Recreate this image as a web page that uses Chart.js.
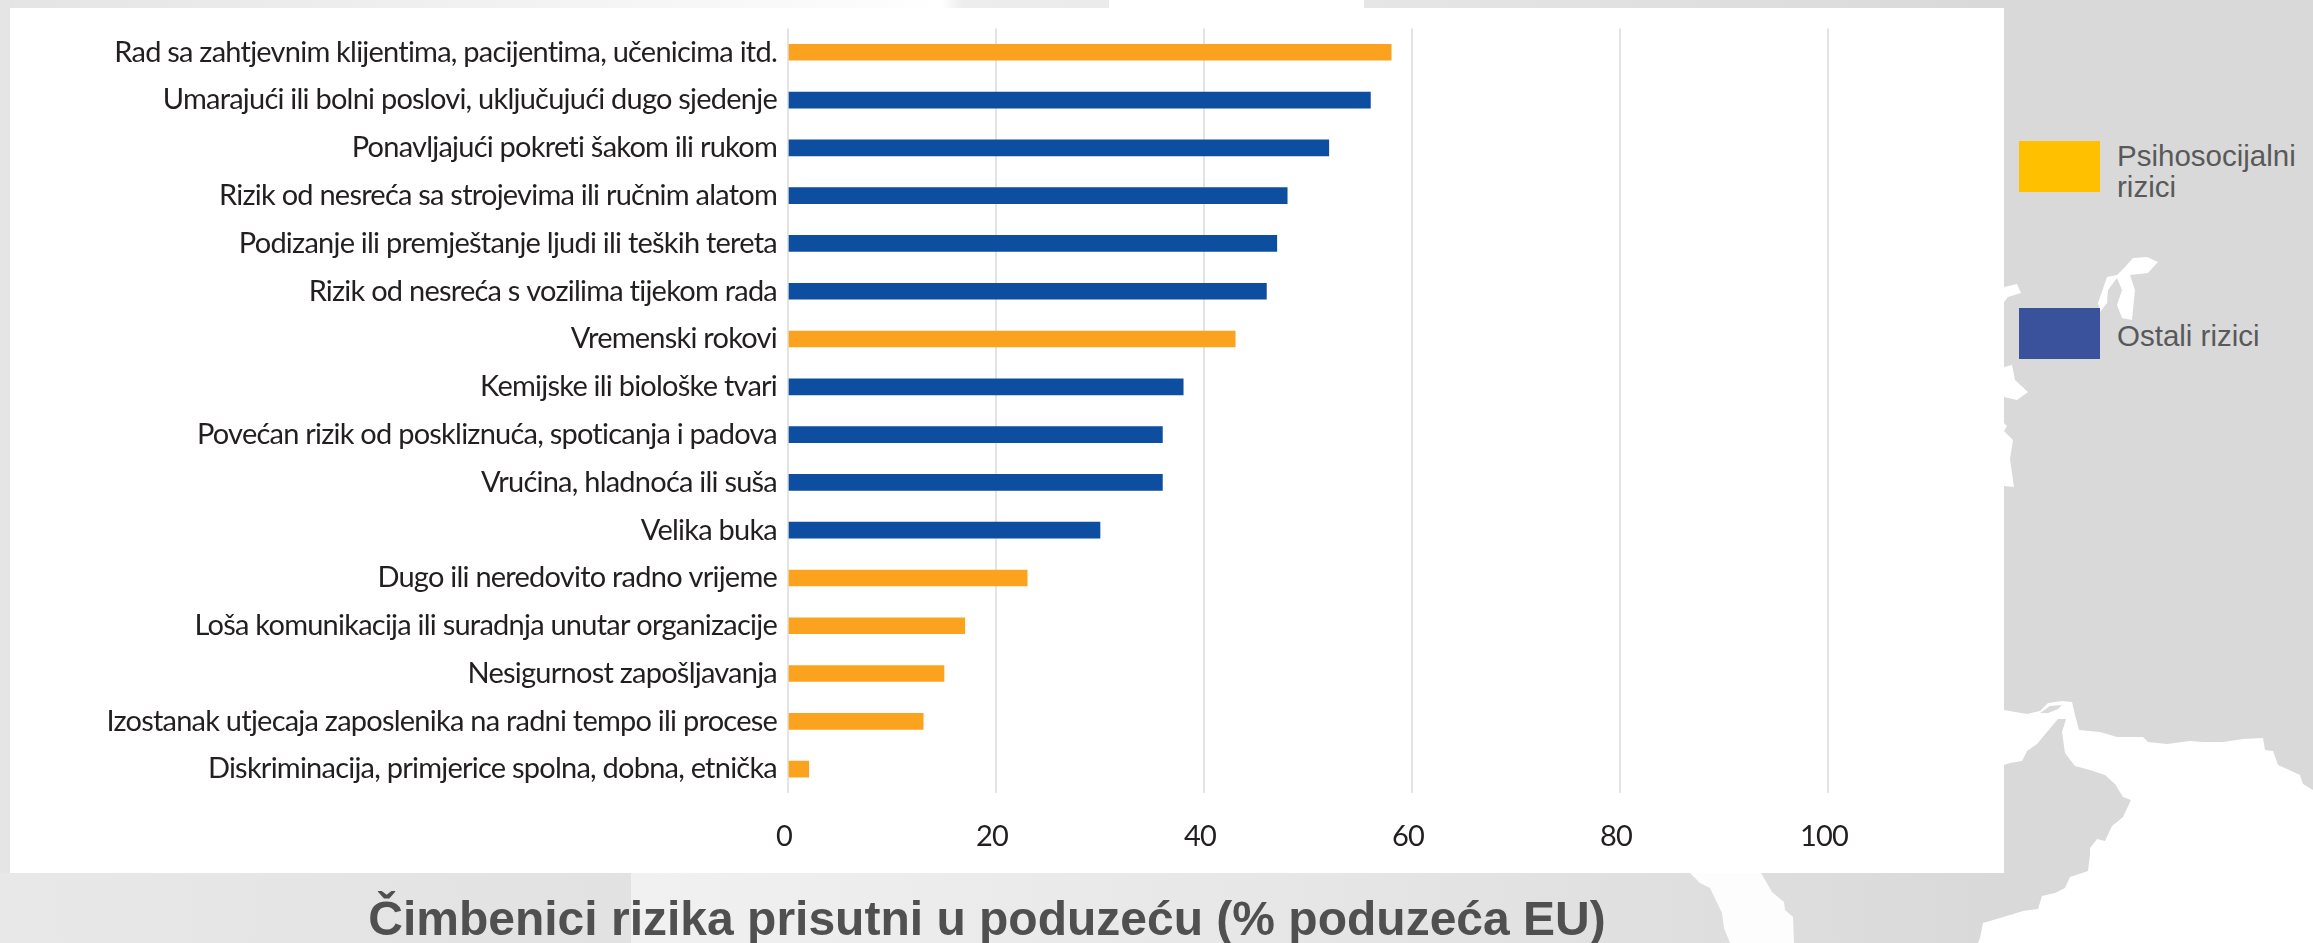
<!DOCTYPE html>
<html><head><meta charset="utf-8">
<script src="https://cdn.jsdelivr.net/npm/chart.js@4"></script>
<style>
html,body{margin:0;padding:0;width:2313px;height:943px;overflow:hidden;background:#d9d9d9}
svg.bg{position:absolute;left:0;top:0}
#panel{position:absolute;left:10px;top:8px;width:1994px;height:865px;background:#fff}
#c{position:absolute;left:0;top:0}
.sw{position:absolute;left:2019px;width:81px;height:51px}
.lt{position:absolute;left:2117px;font:29.5px/31px "Liberation Sans",Arial,sans-serif;color:#595959;white-space:pre}
</style></head><body>
<svg class="bg" width="2313" height="943" xmlns="http://www.w3.org/2000/svg">
<defs>
<linearGradient id="g1" x1="0" x2="1" y1="0" y2="0">
<stop offset="0" stop-color="#f1f1f1"/><stop offset="0.5" stop-color="#e6e6e6"/><stop offset="1" stop-color="#d9d9d9"/></linearGradient>
<linearGradient id="g2" x1="0" x2="1" y1="0" y2="0">
<stop offset="0" stop-color="#e8e8e8"/><stop offset="1" stop-color="#e2e2e2"/></linearGradient>
<linearGradient id="g3" x1="0" x2="1" y1="0" y2="0">
<stop offset="0" stop-color="#e4e4e4"/><stop offset="0.42" stop-color="#fbfbfb"/><stop offset="0.47" stop-color="#ffffff"/><stop offset="0.48" stop-color="#ededed"/><stop offset="0.68" stop-color="#e6e6e6"/><stop offset="1" stop-color="#d9d9d9"/></linearGradient>
</defs>
<rect x="0" y="0" width="2313" height="943" fill="#d9d9d9"/>
<rect x="0" y="0" width="2004" height="10" fill="url(#g3)"/>
<rect x="0" y="0" width="10" height="873" fill="#e5e5e5"/>
<rect x="631" y="873" width="1373" height="70" fill="url(#g1)"/>
<rect x="0" y="873" width="631" height="70" fill="url(#g2)"/>
<polygon fill="#fff" points="1109,0 1364,0 1364,8 1109,8"/>
<polygon fill="#fdfdfd" points="1690,873 1700,883 1710,888 1722,913 1724,928 1730,943 1794,943 1793,917 1785,910 1784,902 1772,892 1761,873"/>
<polygon fill="#fff" points="1990,705 2004,710 2027,714 2040,711 2048,703 2062,701 2072,702 2075,715 2079,730 2100,732 2117,737 2143,737 2148,742 2167,744 2190,741 2203,742 2223,742 2243,739 2263,738 2265,750 2273,751 2278,765 2287,769 2300,775 2303,784 2313,790 2313,943 1978,943 1980,938 1983,923 1990,921 2010,915 2023,911 2038,909 2042,896 2055,893 2065,888 2070,877 2088,871 2090,855 2090,848 2097,839 2105,841 2112,826 2123,817 2131,800 2123,797 2115,784 2105,775 2090,770 2075,766 2065,753 2062,732 2066,719 2058,719 2047,732 2037,744 2027,751 2022,761 2010,763 2004,765 1990,765"/>
<polygon fill="#d9d9d9" points="2040,713 2050,706 2062,705 2058,709 2048,713"/>
<polygon fill="#fff" points="2098,303 2107,277 2117,275 2125,267 2133,258 2147,257 2158,262 2148,273 2130,275 2135,290 2132,320 2122,318 2117,305 2122,290 2117,278 2108,290 2107,303 2100,312"/>
<polygon fill="#fff" points="2004,287 2017,284 2021,293 2008,297 2004,302"/>
<polygon fill="#fff" points="2004,367 2012,365 2015,380 2028,392 2017,400 2004,397"/>
<polygon fill="#fff" points="2004,423 2007,426 2004,431 2013,440 2010,459 2014,487 2004,486"/>
</svg>
<div id="panel"></div>
<canvas id="c" width="1974" height="943"></canvas>
<div class="sw" style="top:141px;background:#FFC000"></div>
<div class="lt" style="top:140px">Psihosocijalni
rizici</div>
<div class="sw" style="top:308px;background:#3A529B"></div>
<div class="lt" style="top:320px">Ostali rizici</div>
<script>
const categories = [
 "Rad sa zahtjevnim klijentima, pacijentima, učenicima itd.",
 "Umarajući ili bolni poslovi, uključujući dugo sjedenje",
 "Ponavljajući pokreti šakom ili rukom",
 "Rizik od nesreća sa strojevima ili ručnim alatom",
 "Podizanje ili premještanje ljudi ili teških tereta",
 "Rizik od nesreća s vozilima tijekom rada",
 "Vremenski rokovi",
 "Kemijske ili biološke tvari",
 "Povećan rizik od poskliznuća, spoticanja i padova",
 "Vrućina, hladnoća ili suša",
 "Velika buka",
 "Dugo ili neredovito radno vrijeme",
 "Loša komunikacija ili suradnja unutar organizacije",
 "Nesigurnost zapošljavanja",
 "Izostanak utjecaja zaposlenika na radni tempo ili procese",
 "Diskriminacija, primjerice spolna, dobna, etnička"
];
const psihosocijalni = [58,null,null,null,null,null,43,null,null,null,null,23,17,15,13,2];
const ostali = [null,56,52,48,47,46,null,38,36,36,30,null,null,null,null,null];
const xTicks = [0,20,40,60,80,100];
const titleText = "Čimbenici rizika prisutni u poduzeću (% poduzeća EU)";

const labelFont = {family:'Lato,"Open Sans",sans-serif', size:29};
const tightLabels = {
  id:'tightLabels',
  beforeDraw(chart){ chart.scales.y.left = 0; },
  afterDatasetsDraw(chart){ chart.ctx.letterSpacing='-0.77px'; },
  afterDraw(chart){ chart.ctx.letterSpacing='0px'; }
};
new Chart(document.getElementById('c'), {
  type:'bar',
  data:{labels:categories, datasets:[
    {label:'Psihosocijalni rizici', data:psihosocijalni, backgroundColor:'#FBA21F', barThickness:16, grouped:false},
    {label:'Ostali rizici', data:ostali, backgroundColor:'#0D4EA0', barThickness:16, grouped:false}
  ]},
  options:{
    indexAxis:'y', responsive:false, animation:false,
    layout:{padding:{left:146,right:146,top:27,bottom:0}},
    plugins:{
      legend:{display:false}, tooltip:{enabled:false},
      title:{display:true, position:'bottom', text:titleText, color:'#505050',
        font:{family:'"Liberation Sans",Arial,sans-serif', size:48, weight:'bold', lineHeight:1},
        padding:{top:5,bottom:-3}}
    },
    scales:{
      x:{min:0,max:100,
        afterBuildTicks:s=>{s.ticks=xTicks.map(v=>({value:v}))},
        afterFit:s=>{s.height=100},
        grid:{color:'#e4e4e4',lineWidth:2,drawTicks:false},
        border:{display:false},
        ticks:{z:1,color:'#231f20',font:labelFont,padding:26,labelOffset:-4,maxRotation:0}
      },
      y:{
        afterFit:s=>{s.width=642},
        grid:{display:false,drawTicks:false},
        border:{display:false},
        ticks:{z:1,color:'#231f20',font:labelFont,padding:11,autoSkip:false}
      }
    }
  },
  plugins:[tightLabels]
});
</script>
</body></html>
